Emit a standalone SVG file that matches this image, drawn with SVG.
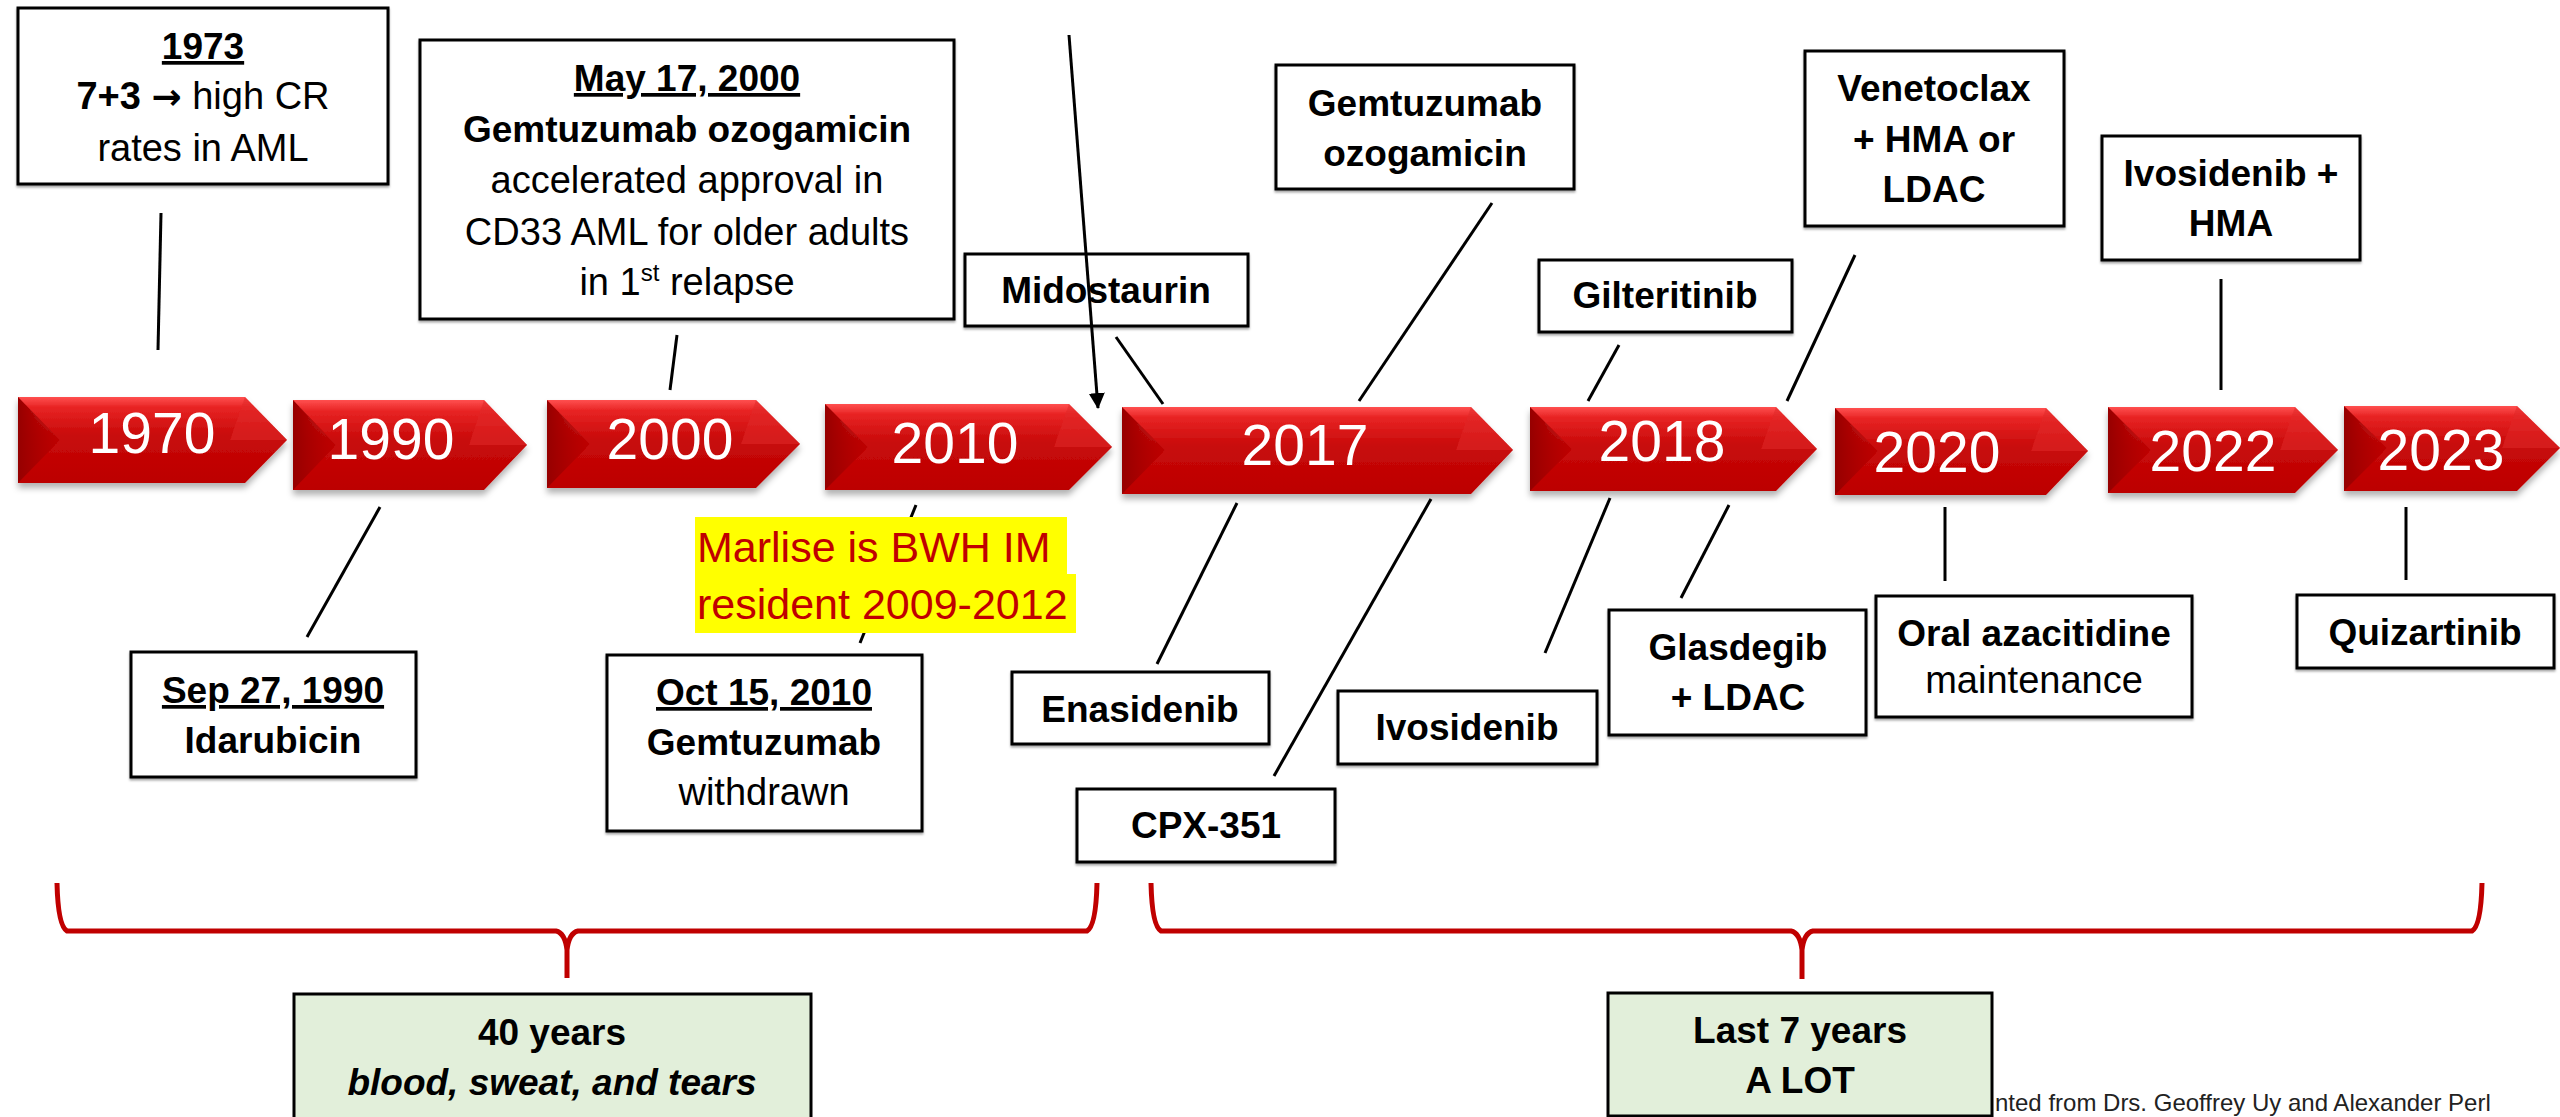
<svg xmlns="http://www.w3.org/2000/svg" width="2560" height="1117" viewBox="0 0 2560 1117">
<defs>
  <linearGradient id="chev" x1="0" y1="0" x2="0" y2="1">
    <stop offset="0" stop-color="#FF5050"/>
    <stop offset="0.12" stop-color="#E82424"/>
    <stop offset="0.45" stop-color="#C80A0A"/>
    <stop offset="1" stop-color="#BC0000"/>
  </linearGradient>
  <linearGradient id="bevL" x1="0" y1="0" x2="1" y2="0">
    <stop offset="0" stop-color="#960000"/>
    <stop offset="1" stop-color="#B00000" stop-opacity="0.4"/>
  </linearGradient>
  <filter id="shadow" x="-5%" y="-10%" width="110%" height="130%">
    <feDropShadow dx="0" dy="5" stdDeviation="3" flood-color="#000" flood-opacity="0.3"/>
  </filter>
  <filter id="bshadow" x="-5%" y="-5%" width="110%" height="115%">
    <feDropShadow dx="0" dy="2" stdDeviation="1" flood-color="#000" flood-opacity="0.35"/>
  </filter>
  <marker id="arrow" viewBox="0 0 16 16" refX="15" refY="8" markerWidth="16" markerHeight="16" markerUnits="userSpaceOnUse" orient="auto">
    <path d="M0,0 L16,8 L0,16 Z" fill="#000"/>
  </marker>
  <style>
    .box { fill: #fff; stroke: #000; stroke-width: 3; filter: url(#bshadow); }
    .gbox { fill: #E2EFDA; stroke: #000; stroke-width: 3; }
    .b { font-family: "Liberation Sans", Arial, sans-serif; font-weight: bold; font-size: 37px; fill: #000; text-anchor: middle; }
    .r { font-family: "Liberation Sans", Arial, sans-serif; font-size: 38px; fill: #000; text-anchor: middle; }
    .u { text-decoration: underline; }
    .yr { font-family: "Liberation Sans", Arial, sans-serif; font-size: 57px; fill: #fff; text-anchor: middle; }
    .ch { fill: url(#chev); }
    .bev { fill: url(#bevL); }
    .tip { fill: #E02828; opacity: 0.55; }
    .conn { stroke: #000; stroke-width: 3; fill: none; }
    .brace { stroke: #C00000; stroke-width: 5; fill: none; stroke-linejoin: round; }
    .hl { fill: #FFFF00; }
    .red { font-family: "Liberation Sans", Arial, sans-serif; font-size: 43px; fill: #C00000; }
  </style>
</defs>
<rect width="2560" height="1117" fill="#fff"/>

<!-- Timeline chevrons -->
<g id="y1970" filter="url(#shadow)">
  <polygon class="ch" points="18,397 245,397 287,440 245,483 18,483"/>
  <polygon class="bev" points="18,397 60,440 18,483"/>
  <polygon class="tip" points="245,397 287,440 230,440"/>
  <text class="yr" x="152" y="453">1970</text>
</g>
<g id="y1990" filter="url(#shadow)">
  <polygon class="ch" points="293,400 484,400 527,445 484,490 293,490"/>
  <polygon class="bev" points="293,400 336,445 293,490"/>
  <polygon class="tip" points="484,400 527,445 469,445"/>
  <text class="yr" x="391" y="459">1990</text>
</g>
<g id="y2000" filter="url(#shadow)">
  <polygon class="ch" points="547,400 756,400 800,444 756,488 547,488"/>
  <polygon class="bev" points="547,400 590,444 547,488"/>
  <polygon class="tip" points="756,400 800,444 741,444"/>
  <text class="yr" x="670" y="459">2000</text>
</g>
<g id="y2010" filter="url(#shadow)">
  <polygon class="ch" points="825,404 1069,404 1112,447 1069,490 825,490"/>
  <polygon class="bev" points="825,404 868,447 825,490"/>
  <polygon class="tip" points="1069,404 1112,447 1054,447"/>
  <text class="yr" x="955" y="463">2010</text>
</g>
<g id="y2017" filter="url(#shadow)">
  <polygon class="ch" points="1122,407 1471,407 1513,450 1471,494 1122,494"/>
  <polygon class="bev" points="1122,407 1165,450 1122,494"/>
  <polygon class="tip" points="1471,407 1513,450 1456,450"/>
  <text class="yr" x="1305" y="465">2017</text>
</g>
<g id="y2018" filter="url(#shadow)">
  <polygon class="ch" points="1530,407 1776,407 1817,449 1776,491 1530,491"/>
  <polygon class="bev" points="1530,407 1572,449 1530,491"/>
  <polygon class="tip" points="1776,407 1817,449 1761,449"/>
  <text class="yr" x="1662" y="461">2018</text>
</g>
<g id="y2020" filter="url(#shadow)">
  <polygon class="ch" points="1835,408 2046,408 2088,451 2046,495 1835,495"/>
  <polygon class="bev" points="1835,408 1878,451 1835,495"/>
  <polygon class="tip" points="2046,408 2088,451 2031,451"/>
  <text class="yr" x="1937" y="472">2020</text>
</g>
<g id="y2022" filter="url(#shadow)">
  <polygon class="ch" points="2108,407 2295,407 2338,450 2295,493 2108,493"/>
  <polygon class="bev" points="2108,407 2151,450 2108,493"/>
  <polygon class="tip" points="2295,407 2338,450 2280,450"/>
  <text class="yr" x="2213" y="471">2022</text>
</g>
<g id="y2023" filter="url(#shadow)">
  <polygon class="ch" points="2344,406 2517,406 2560,448 2517,491 2344,491"/>
  <polygon class="bev" points="2344,406 2387,448 2344,491"/>
  <polygon class="tip" points="2517,406 2560,448 2502,448"/>
  <text class="yr" x="2441" y="470">2023</text>
</g>

<!-- Connectors -->
<g id="connectors">
  <line class="conn" x1="161" y1="213" x2="158" y2="350"/>
  <line class="conn" x1="677" y1="335" x2="670" y2="390"/>
  <line class="conn" x1="1116" y1="337" x2="1163" y2="404"/>
  <line class="conn" x1="1492" y1="203" x2="1359" y2="401"/>
  <line class="conn" x1="1619" y1="345" x2="1588" y2="401"/>
  <line class="conn" x1="1855" y1="255" x2="1787" y2="401"/>
  <line class="conn" x1="2221" y1="279" x2="2221" y2="390"/>
  <line class="conn" x1="380" y1="507" x2="307" y2="637"/>
  <line class="conn" x1="916" y1="505" x2="860" y2="643"/>
  <line class="conn" x1="1237" y1="503" x2="1157" y2="664"/>
  <line class="conn" x1="1431" y1="499" x2="1274" y2="776"/>
  <line class="conn" x1="1610" y1="498" x2="1545" y2="653"/>
  <line class="conn" x1="1729" y1="505" x2="1681" y2="598"/>
  <line class="conn" x1="1945" y1="507" x2="1945" y2="581"/>
  <line class="conn" x1="2406" y1="507" x2="2406" y2="580"/>
  <path class="brace" d="M57,883 Q58,926 67,931 L556,931 Q565,933 567,950 L567,978 M1097,883 Q1096,926 1087,931 L578,931 Q569,933 567,950"/>
  <path class="brace" d="M1151,883 Q1152,926 1161,931 L1791,931 Q1800,933 1802,950 L1802,979 M2482,883 Q2481,926 2472,931 L1813,931 Q1804,933 1802,950"/>
</g>

<!-- Top nodes -->
<g id="n1973">
  <rect class="box" x="18" y="8" width="370" height="176"/>
  <text class="b u" x="203" y="59">1973</text>
  <text class="r" x="203" y="109"><tspan font-weight="bold">7+3 </tspan><tspan font-family="DejaVu Sans, sans-serif" font-weight="bold" font-size="36">→</tspan> high CR</text>
  <text class="r" x="203" y="161">rates in AML</text>
</g>
<g id="n2000">
  <rect class="box" x="420" y="40" width="534" height="279"/>
  <text class="b u" x="687" y="91">May 17, 2000</text>
  <text class="b" x="687" y="142">Gemtuzumab ozogamicin</text>
  <text class="r" x="687" y="193">accelerated approval in</text>
  <text class="r" x="687" y="245">CD33 AML for older adults</text>
  <text class="r" x="687" y="295">in 1<tspan font-size="24" dy="-14">st</tspan><tspan dy="14"> relapse</tspan></text>
</g>
<g id="nMido">
  <rect class="box" x="965" y="254" width="283" height="72"/>
  <text class="b" x="1106" y="303">Midostaurin</text>
</g>
<g id="nGemOz">
  <rect class="box" x="1276" y="65" width="298" height="124"/>
  <text class="b" x="1425" y="116">Gemtuzumab</text>
  <text class="b" x="1425" y="166">ozogamicin</text>
</g>
<g id="nGilt">
  <rect class="box" x="1539" y="260" width="253" height="72"/>
  <text class="b" x="1665" y="308">Gilteritinib</text>
</g>
<g id="nVen">
  <rect class="box" x="1805" y="51" width="259" height="175"/>
  <text class="b" x="1934" y="101">Venetoclax</text>
  <text class="b" x="1934" y="152">+ HMA or</text>
  <text class="b" x="1934" y="202">LDAC</text>
</g>
<g id="nIvoHMA">
  <rect class="box" x="2102" y="136" width="258" height="124"/>
  <text class="b" x="2231" y="186">Ivosidenib +</text>
  <text class="b" x="2231" y="236">HMA</text>
</g>

<!-- Bottom nodes -->
<g id="n1990">
  <rect class="box" x="131" y="652" width="285" height="125"/>
  <text class="b u" x="273" y="703">Sep 27, 1990</text>
  <text class="b" x="273" y="753">Idarubicin</text>
</g>
<g id="nMarlise">
  <rect class="hl" x="695" y="517" width="372" height="58"/>
  <rect class="hl" x="695" y="574" width="381" height="59"/>
  <text class="red" x="697" y="562">Marlise is BWH IM</text>
  <text class="red" x="697" y="619">resident 2009-2012</text>
</g>
<g id="n2010">
  <rect class="box" x="607" y="655" width="315" height="176"/>
  <text class="b u" x="764" y="705">Oct 15, 2010</text>
  <text class="b" x="764" y="755">Gemtuzumab</text>
  <text class="r" x="764" y="805">withdrawn</text>
</g>
<g id="nEna">
  <rect class="box" x="1012" y="672" width="257" height="72"/>
  <text class="b" x="1140" y="722">Enasidenib</text>
</g>
<g id="nCPX">
  <rect class="box" x="1077" y="789" width="258" height="73"/>
  <text class="b" x="1206" y="838">CPX-351</text>
</g>
<g id="nIvo">
  <rect class="box" x="1338" y="691" width="259" height="73"/>
  <text class="b" x="1467" y="740">Ivosidenib</text>
</g>
<g id="nGlas">
  <rect class="box" x="1609" y="610" width="257" height="125"/>
  <text class="b" x="1738" y="660">Glasdegib</text>
  <text class="b" x="1738" y="710">+ LDAC</text>
</g>
<g id="nOral">
  <rect class="box" x="1876" y="596" width="316" height="121"/>
  <text class="b" x="2034" y="646" font-size="36">Oral azacitidine</text>
  <text class="r" x="2034" y="693" font-size="35">maintenance</text>
</g>
<g id="nQuiz">
  <rect class="box" x="2297" y="595" width="257" height="73"/>
  <text class="b" x="2425" y="645">Quizartinib</text>
</g>

<!-- Arrow -->
<g id="arrowConn">
  <line x1="1069" y1="35" x2="1098" y2="408" stroke="#000" stroke-width="3" marker-end="url(#arrow)"/>
</g>

<!-- Summary boxes -->
<g id="n40years">
  <rect class="gbox" x="294" y="994" width="517" height="140"/>
  <text class="b" x="552" y="1045">40 years</text>
  <text class="b" x="552" y="1095" font-style="italic">blood, sweat, and tears</text>
</g>
<g id="n7years">
  <rect class="gbox" x="1608" y="993" width="384" height="123"/>
  <text class="b" x="1800" y="1043">Last 7 years</text>
  <text class="b" x="1800" y="1093">A LOT</text>
</g>
<text x="1995" y="1111" font-family="Liberation Sans, Arial, sans-serif" font-size="24" fill="#222">nted from Drs. Geoffrey Uy and Alexander Perl</text>
</svg>
